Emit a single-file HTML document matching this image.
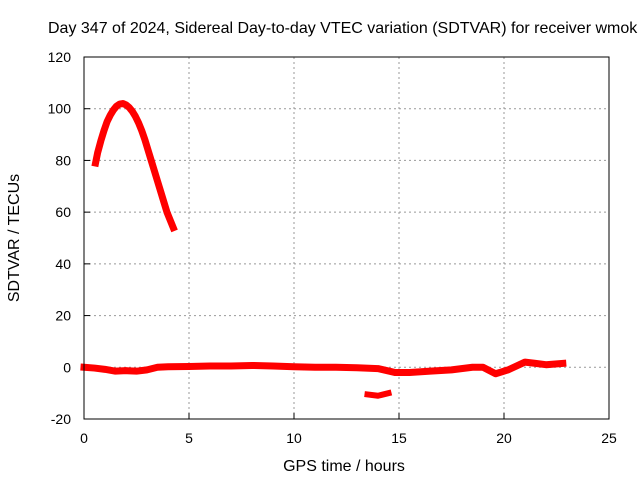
<!DOCTYPE html>
<html><head><meta charset="utf-8"><style>
body{margin:0;background:#fff}
svg text{font-family:"Liberation Sans",sans-serif;font-size:14px;fill:#000}
svg text.big{font-size:16px}
</style></head><body>
<svg id="c" width="640" height="480">
<text class="big" x="48" y="33">Day 347 of 2024, Sidereal Day-to-day VTEC variation (SDTVAR) for receiver wmok</text>
<text class="big" x="344" y="471" text-anchor="middle">GPS time / hours</text>
<text class="big" transform="translate(19,238) rotate(-90)" text-anchor="middle">SDTVAR / TECUs</text>
<g id="grid"></g><g id="marks"></g>
<rect x="84" y="57" width="525" height="362" fill="none" stroke="#000" stroke-width="1"/>
</svg>
<script>
const xTicks=[0,5,10,15,20,25];
const yTicks=[-20,0,20,40,60,80,100,120];
const arcX=[0.55,0.65,0.8,0.95,1.1,1.25,1.4,1.55,1.7,1.85,2.0,2.15,2.3,2.45,2.6,2.75,2.9,3.05,3.2,3.35,3.5,3.65,3.8,3.95,4.1,4.25];
const arcY=[79,83,87.5,91.5,95,97.5,99.5,101,101.8,102,101.5,100.5,99,97,94.5,91.5,88,84,80,76,72,68,64,60,57,54];
const baseX=[0,0.5,1,1.5,2,2.5,3,3.5,4,5,6,7,8,9,10,11,12,13,14,14.8,15.5,16.5,17.5,18.5,19,19.6,20.2,21,21.5,22,22.8];
const baseY=[0,-0.3,-0.8,-1.5,-1.3,-1.5,-1,0,0.2,0.3,0.5,0.5,0.7,0.5,0.2,0,0,-0.2,-0.5,-2,-2,-1.5,-1,0,0,-2.5,-1,2,1.5,1,1.5];
const lowX=[13.5,14,14.5];
const lowY=[-10.5,-11,-10];
const X=v=>84+v*21, Y=v=>57+(120-v)*362/140;
const NS='http://www.w3.org/2000/svg';
const g=document.getElementById('grid'), m=document.getElementById('marks');
function mk(p,t,a){const e=document.createElementNS(NS,t);for(const k in a)e.setAttribute(k,a[k]);p.appendChild(e);return e;}
xTicks.forEach(v=>{
 if(v>0&&v<25){const l=mk(g,'line',{x1:X(v),x2:X(v),y1:57,y2:419,stroke:'#999','stroke-dasharray':'2,3'});
 
 }
 mk(g,'line',{x1:X(v),x2:X(v),y1:419,y2:413,stroke:'#000'});
 const t=mk(g,'text',{x:X(v),y:443,'text-anchor':'middle'});t.textContent=v;
 
 
});
yTicks.forEach(v=>{
 if(v>-20&&v<120){const l=mk(g,'line',{x1:84,x2:609,y1:Y(v),y2:Y(v),stroke:'#999','stroke-dasharray':'2,3'});
 
 }
 mk(g,'line',{x1:84,x2:90,y1:Y(v),y2:Y(v),stroke:'#000'});
 const t=mk(g,'text',{x:71,y:Y(v)+5,'text-anchor':'end'});t.textContent=v;
 
 
});
function series(xs,ys,name,w){
 const pts=xs.map((x,i)=>X(x)+','+Y(ys[i])).join(' ');
 const p=mk(m,'polyline',{points:pts,fill:'none',stroke:'#f00','stroke-width':w,'stroke-linejoin':'round','stroke-linecap':'square'});
 
 
}
series(arcX,arcY,'series-arc',7);
series(baseX,baseY,'series-baseline',7);
series(lowX,lowY,'series-low',6);
</script>
</body></html>
